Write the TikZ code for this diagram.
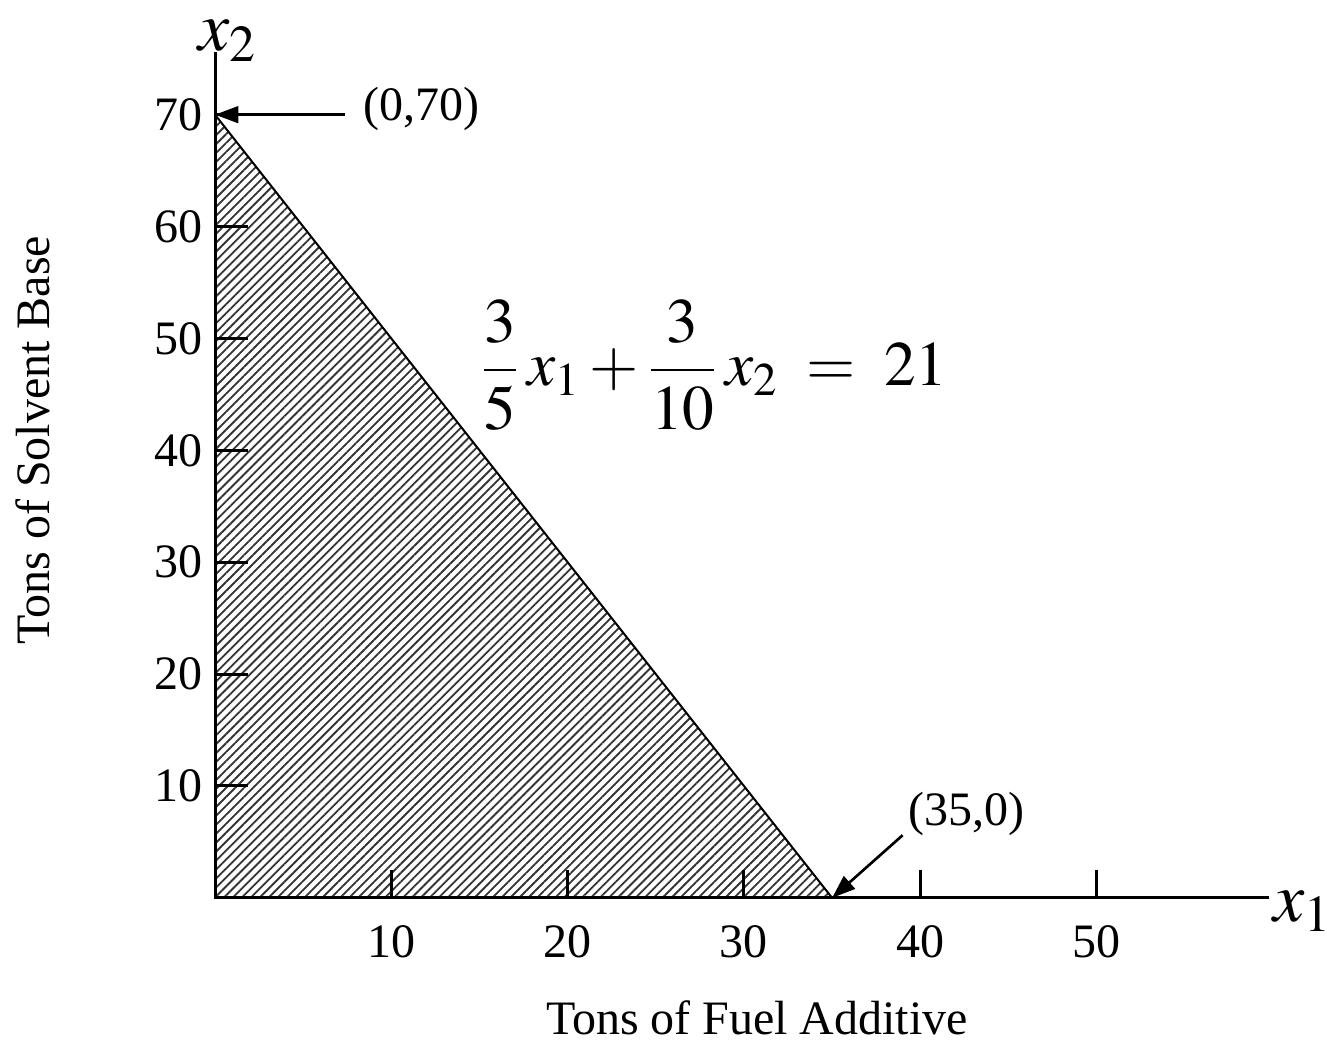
\documentclass[tikz,border=0pt]{standalone}
\usepackage{mathptmx}
\usepackage{fontspec}
\setmainfont{Liberation Serif}
\usetikzlibrary{arrows.meta, patterns.meta}

\begin{document}
\begin{tikzpicture}[x=5.29pt, y=3.357pt, line width=0.9pt,
    ticklabel/.style={font=\fontsize{14.4}{16}\selectfont, inner sep=1pt},
    axislabel/.style={font=\fontsize{21}{24}\selectfont, inner sep=0pt},
    pointer/.style={-{Triangle[length=7pt,width=5pt]}, line width=0.8pt}]
  \useasboundingbox (-12.195,-12.78) rectangle (63.07,80.25);
  % feasible region
  \coordinate (o) at (0,0);
  \coordinate (top) at (0,70);
  \coordinate (right) at (35,0);
  \fill[pattern={Lines[angle=45, distance=1.9pt, line width=0.55pt]}, pattern color=black!80] (o) -- (top) -- (right) -- cycle;
  \draw[line width=0.6pt] (top) -- (right);
  % axes
  \coordinate (xend) at (59.8,0);
  \coordinate (yend) at (0,75.6);
  \draw (xend) -- (o) -- (yend);
  \node[axislabel] (xlab) at (61.7,-1.2) {$x_1$};
  \node[axislabel] (ylab) at (0.7,76.6) {$x_2$};
  \foreach \x in {10,20,...,50}{
    \draw (\x,0) -- (\x,2.5);
    \node[ticklabel] (tx\x) at (\x,-3.9) {\x};
  }
  \foreach \y in {10,20,...,70}{
    \draw (0,\y) -- (1.86,\y);
    \node[ticklabel, anchor=east] (ty\y) at (-0.45,\y) {\y};
  }
  % corner points
  \node[ticklabel] (ptop) at (11.7,70.5) {(0,70)};
  \coordinate (ptopfrom) at (7.37,70);
  \draw[pointer] (ptopfrom) -- (top);
  \node[ticklabel] (pright) at (42.6,7.5) {(35,0)};
  \coordinate (prightfrom) at (39.0,5.6);
  \draw[pointer] (prightfrom) -- (right);
  % constraint
  \node[font=\fontsize{19}{23}\selectfont] (eq) at (28.3,47.6)
    {$\displaystyle\frac{3}{5}\,x_1+\frac{3}{10}\,x_2\;=\;21$};
  % axis titles
  \node[ticklabel, rotate=90] (ytitle) at (-10.32,40.9) {Tons of Solvent Base};
  \node[ticklabel, inner sep=0pt] (xtitle) at (30.74,-10.7) {Tons of Fuel Additive};
\end{tikzpicture}
\end{document}
